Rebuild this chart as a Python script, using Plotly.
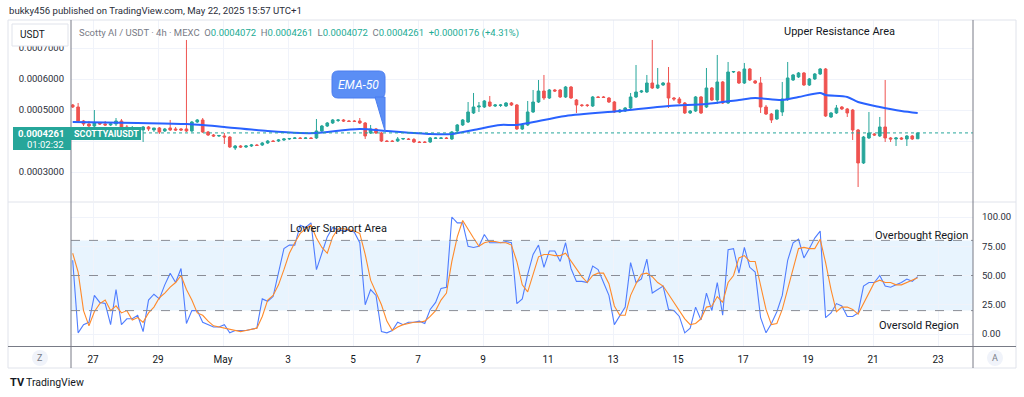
import pandas as pd
import plotly.graph_objects as go

W, H = 1024, 397
def fx(px): return px / W
def fy(py): return 1 - py / H

# ---------------- data ----------------
TIMES = pd.date_range("2025-04-26 09:00", periods=157, freq="4h")

OPEN = [5.162e-4,5.097e-4,4.646e-4,4.549e-4,4.484e-4,4.581e-4,4.549e-4,4.517e-4,4.549e-4,4.646e-4,
4.452e-4,4.388e-4,4.420e-4,4.355e-4,4.452e-4,4.355e-4,4.420e-4,4.323e-4,4.420e-4,4.388e-4,
4.388e-4,4.388e-4,4.323e-4,4.613e-4,4.678e-4,4.291e-4,4.194e-4,4.162e-4,4.162e-4,4.129e-4,
3.775e-4,3.839e-4,3.807e-4,3.839e-4,3.871e-4,3.871e-4,3.936e-4,4.000e-4,4.000e-4,4.033e-4,
4.065e-4,4.081e-4,4.097e-4,4.081e-4,4.097e-4,4.097e-4,4.323e-4,4.484e-4,4.581e-4,4.662e-4,
4.678e-4,4.646e-4,4.646e-4,4.646e-4,4.581e-4,4.258e-4,4.388e-4,4.258e-4,4.000e-4,4.000e-4,
4.000e-4,4.065e-4,4.065e-4,4.049e-4,3.968e-4,3.968e-4,3.968e-4,4.081e-4,4.081e-4,4.097e-4,
4.065e-4,4.323e-4,4.517e-4,4.613e-4,4.904e-4,5.097e-4,5.097e-4,5.258e-4,5.129e-4,5.146e-4,
5.129e-4,5.226e-4,5.162e-4,4.388e-4,4.517e-4,4.936e-4,5.258e-4,5.613e-4,5.387e-4,5.646e-4,
5.646e-4,5.420e-4,5.742e-4,5.323e-4,5.162e-4,5.162e-4,5.129e-4,5.420e-4,5.420e-4,5.387e-4,
5.258e-4,4.936e-4,4.968e-4,5.065e-4,5.420e-4,5.581e-4,5.581e-4,5.871e-4,5.710e-4,5.807e-4,
5.871e-4,5.387e-4,5.355e-4,5.226e-4,4.904e-4,4.968e-4,5.420e-4,5.097e-4,5.710e-4,5.323e-4,
5.904e-4,5.226e-4,6.226e-4,6.226e-4,5.871e-4,6.323e-4,5.936e-4,5.871e-4,5.097e-4,4.871e-4,
4.710e-4,4.936e-4,5.355e-4,5.968e-4,6.065e-4,6.194e-4,5.807e-4,6.001e-4,6.162e-4,6.323e-4,
4.775e-4,4.904e-4,5.097e-4,5.033e-4,5.000e-4,4.355e-4,3.291e-4,4.097e-4,4.226e-4,4.162e-4,
4.452e-4,4.097e-4,4.065e-4,4.097e-4,4.065e-4,4.162e-4,4.072e-4]

HIGH = [5.194e-4,5.226e-4,4.678e-4,4.646e-4,5.000e-4,4.613e-4,4.646e-4,4.581e-4,4.742e-4,4.710e-4,
4.517e-4,4.484e-4,4.452e-4,4.484e-4,4.484e-4,4.420e-4,4.452e-4,4.420e-4,4.678e-4,4.452e-4,
4.420e-4,7.259e-4,4.646e-4,4.710e-4,4.742e-4,4.323e-4,4.226e-4,4.194e-4,4.258e-4,4.162e-4,
3.871e-4,3.871e-4,3.871e-4,3.904e-4,3.904e-4,3.968e-4,4.033e-4,4.033e-4,4.065e-4,4.097e-4,
4.097e-4,4.129e-4,4.129e-4,4.129e-4,4.129e-4,4.710e-4,4.517e-4,4.613e-4,4.710e-4,4.710e-4,
4.710e-4,4.678e-4,4.678e-4,4.742e-4,4.613e-4,4.517e-4,4.420e-4,4.291e-4,4.033e-4,4.033e-4,
4.129e-4,4.097e-4,4.097e-4,4.097e-4,4.000e-4,4.000e-4,4.129e-4,4.129e-4,4.129e-4,4.129e-4,
4.323e-4,4.549e-4,4.710e-4,5.258e-4,5.549e-4,5.258e-4,5.323e-4,5.452e-4,5.194e-4,5.194e-4,
5.258e-4,5.258e-4,5.194e-4,4.549e-4,5.291e-4,5.646e-4,5.968e-4,6.130e-4,5.678e-4,5.678e-4,
5.678e-4,5.775e-4,5.775e-4,5.355e-4,5.194e-4,5.194e-4,5.452e-4,5.452e-4,5.452e-4,5.420e-4,
5.291e-4,5.033e-4,5.097e-4,5.549e-4,6.452e-4,5.646e-4,6.130e-4,7.259e-4,6.355e-4,5.904e-4,
6.387e-4,5.420e-4,5.420e-4,5.258e-4,5.000e-4,5.452e-4,5.452e-4,6.355e-4,5.742e-4,6.775e-4,
5.936e-4,6.549e-4,6.259e-4,6.259e-4,6.517e-4,6.355e-4,5.968e-4,6.065e-4,5.162e-4,4.904e-4,
5.000e-4,5.904e-4,6.549e-4,6.162e-4,6.226e-4,6.226e-4,6.033e-4,6.194e-4,6.355e-4,6.355e-4,
4.936e-4,5.162e-4,5.129e-4,5.065e-4,5.033e-4,4.388e-4,4.162e-4,4.936e-4,4.258e-4,4.775e-4,
5.968e-4,4.129e-4,4.129e-4,4.129e-4,4.194e-4,4.194e-4,4.261e-4]

LOW = [5.065e-4,4.613e-4,4.484e-4,4.420e-4,4.355e-4,4.517e-4,4.484e-4,4.484e-4,4.484e-4,4.420e-4,
4.355e-4,4.323e-4,4.323e-4,3.968e-4,4.323e-4,4.291e-4,4.226e-4,4.291e-4,4.323e-4,4.323e-4,
4.323e-4,4.291e-4,4.291e-4,4.581e-4,4.258e-4,4.162e-4,4.129e-4,4.129e-4,3.904e-4,3.775e-4,
3.710e-4,3.775e-4,3.775e-4,3.807e-4,3.839e-4,3.839e-4,3.904e-4,3.968e-4,3.968e-4,4.000e-4,
4.033e-4,4.065e-4,4.065e-4,4.065e-4,4.065e-4,4.065e-4,4.291e-4,4.452e-4,4.549e-4,4.613e-4,
4.613e-4,4.613e-4,4.613e-4,4.549e-4,4.065e-4,4.226e-4,4.226e-4,3.968e-4,3.968e-4,3.968e-4,
3.968e-4,4.033e-4,4.033e-4,3.936e-4,3.936e-4,3.936e-4,3.936e-4,4.065e-4,4.065e-4,4.065e-4,
4.033e-4,4.291e-4,4.484e-4,4.581e-4,4.871e-4,4.936e-4,5.065e-4,5.097e-4,5.097e-4,5.097e-4,
5.097e-4,5.129e-4,4.355e-4,4.355e-4,4.484e-4,4.904e-4,5.226e-4,5.323e-4,5.355e-4,5.581e-4,
5.387e-4,5.387e-4,5.355e-4,4.904e-4,5.097e-4,5.097e-4,5.097e-4,5.387e-4,5.387e-4,5.226e-4,
4.904e-4,4.904e-4,4.936e-4,5.033e-4,5.387e-4,5.549e-4,5.549e-4,5.678e-4,5.678e-4,5.775e-4,
5.065e-4,5.291e-4,5.194e-4,4.871e-4,4.871e-4,4.936e-4,4.871e-4,5.065e-4,5.291e-4,5.194e-4,
5.194e-4,5.194e-4,6.194e-4,5.839e-4,5.839e-4,5.936e-4,5.839e-4,4.904e-4,4.839e-4,4.581e-4,
4.678e-4,4.807e-4,5.291e-4,5.936e-4,6.033e-4,5.775e-4,5.775e-4,5.968e-4,6.130e-4,4.775e-4,
4.742e-4,4.871e-4,5.000e-4,4.775e-4,4.033e-4,2.516e-4,3.258e-4,4.065e-4,4.162e-4,4.129e-4,
3.968e-4,3.968e-4,3.839e-4,4.033e-4,3.839e-4,4.033e-4,4.072e-4]

CLOSE = [5.097e-4,4.646e-4,4.549e-4,4.484e-4,4.581e-4,4.549e-4,4.517e-4,4.549e-4,4.646e-4,4.452e-4,
4.388e-4,4.420e-4,4.355e-4,4.452e-4,4.388e-4,4.420e-4,4.291e-4,4.388e-4,4.355e-4,4.355e-4,
4.355e-4,4.323e-4,4.613e-4,4.678e-4,4.291e-4,4.194e-4,4.162e-4,4.178e-4,4.129e-4,3.807e-4,
3.839e-4,3.807e-4,3.839e-4,3.871e-4,3.855e-4,3.936e-4,4.000e-4,3.984e-4,4.033e-4,4.065e-4,
4.081e-4,4.097e-4,4.081e-4,4.097e-4,4.081e-4,4.323e-4,4.484e-4,4.581e-4,4.678e-4,4.678e-4,
4.646e-4,4.630e-4,4.630e-4,4.581e-4,4.162e-4,4.388e-4,4.258e-4,4.000e-4,3.984e-4,3.984e-4,
4.065e-4,4.081e-4,4.049e-4,3.968e-4,3.952e-4,3.952e-4,4.097e-4,4.097e-4,4.097e-4,4.081e-4,
4.291e-4,4.517e-4,4.678e-4,4.936e-4,5.097e-4,5.129e-4,5.291e-4,5.129e-4,5.162e-4,5.162e-4,
5.226e-4,5.162e-4,4.388e-4,4.517e-4,4.936e-4,5.258e-4,5.613e-4,5.387e-4,5.646e-4,5.613e-4,
5.420e-4,5.742e-4,5.387e-4,5.162e-4,5.146e-4,5.146e-4,5.420e-4,5.404e-4,5.404e-4,5.258e-4,
4.936e-4,5.000e-4,5.065e-4,5.420e-4,5.581e-4,5.613e-4,5.871e-4,5.710e-4,5.807e-4,5.871e-4,
5.387e-4,5.355e-4,5.226e-4,4.904e-4,4.968e-4,5.420e-4,4.904e-4,5.710e-4,5.323e-4,5.904e-4,
5.226e-4,6.226e-4,6.242e-4,5.871e-4,6.323e-4,5.968e-4,5.871e-4,5.097e-4,4.871e-4,4.678e-4,
5.000e-4,5.355e-4,6.033e-4,6.130e-4,6.194e-4,5.807e-4,6.001e-4,6.162e-4,6.323e-4,4.807e-4,
4.904e-4,5.065e-4,5.033e-4,4.904e-4,4.355e-4,3.291e-4,4.129e-4,4.258e-4,4.194e-4,4.452e-4,
4.097e-4,4.065e-4,4.097e-4,4.065e-4,4.162e-4,4.065e-4,4.261e-4]

# EMA-50 (read at a subset of candles)
EMA_IDX = [0,12,21,24,28,36,42,45,53,58,66,70,74,79,82,91,101,110,117,123,126,131,134,138,139,143,145,149,153,156]
EMA_VAL = [4.613e-4,4.581e-4,4.549e-4,4.517e-4,4.452e-4,4.323e-4,4.258e-4,4.258e-4,4.388e-4,4.323e-4,
           4.226e-4,4.226e-4,4.355e-4,4.517e-4,4.517e-4,4.807e-4,4.968e-4,5.129e-4,5.194e-4,5.323e-4,
           5.387e-4,5.323e-4,5.420e-4,5.549e-4,5.484e-4,5.420e-4,5.258e-4,5.097e-4,4.968e-4,4.904e-4]

# Stoch RSI %K (blue) and %D (orange)
K = [63,1,8,10,33,27,26,8,38,8,
     13,13,16,2,29,34,30,42,52,44,
     56,9,20,20,10,8,6,6,8,1,
     3,3,3,4,5,30,28,32,52,73,
     76,76,93,91,95,55,69,83,91,89,
     88,89,87,78,25,38,33,2,1,3,
     10,8,10,10,11,9,21,27,39,40,
     100,95,95,75,74,75,85,78,78,78,
     79,78,26,30,51,68,76,57,71,71,
     62,78,56,45,45,44,58,55,44,33,
     8,16,23,61,44,47,64,35,38,41,
     21,20,15,1,5,23,12,35,20,44,
     16,72,73,52,74,57,53,14,1,9,
     19,33,63,78,81,65,73,82,88,14,
     18,26,24,15,15,18,41,44,44,50,
     41,40,42,44,47,45,49]
D = [69,53,20,7,19,26,29,20,24,18,
     20,12,14,10,18,23,31,35,40,44,
     50,38,29,18,16,11,7,6,5,4,
     3,2,3,4,5,15,29,33,42,55,
     69,78,86,90,93,82,74,69,83,90,
     90,89,88,86,68,46,36,25,11,3,
     6,8,9,10,10,11,15,20,29,35,
     62,83,97,89,82,75,78,79,79,78,
     78,76,62,42,36,51,66,68,68,67,
     67,69,62,56,49,44,50,52,52,43,
     24,16,16,33,43,51,52,49,44,41,
     34,27,19,13,8,9,13,23,24,32,
     27,44,50,65,67,62,62,41,21,8,
     9,21,38,57,73,74,73,73,81,61,
     38,19,23,23,21,17,26,35,44,46,
     44,44,42,42,44,46,48]

TICK_DATES = ["2025-04-27","2025-04-29","2025-05-01","2025-05-03","2025-05-05","2025-05-07",
              "2025-05-09","2025-05-11","2025-05-13","2025-05-15","2025-05-17","2025-05-19",
              "2025-05-21","2025-05-23"]
TICK_LABELS = ["27","29","May","3","5","7","9","11","13","15","17","19","21","23"]
PRICE_TICKS = [0.0003,0.0004,0.0005,0.0006,0.0007]
# 0.0004000 sits under the last-price label in the reference, so it is not shown
PRICE_LABELS = ["0.0003000","","0.0005000","0.0006000","0.0007000"]
RSI_TICKS = [0,25,50,75,100]
RSI_LABELS = ["0.00","25.00","50.00","75.00","100.00"]
RSI_BANDS = [20,50,80]
LAST_PRICE = 0.0004261

GREEN = "#26a69a"
RED = "#ef5350"
TEXT = "#131722"
GRID = "#f0f3fa"
AXIS = "#787b86"
FONT = "Roboto"

fig = go.Figure()
fig.add_trace(go.Candlestick(
    x=TIMES, open=OPEN, high=HIGH, low=LOW, close=CLOSE,
    increasing=dict(line=dict(color=GREEN, width=1), fillcolor=GREEN),
    decreasing=dict(line=dict(color=RED, width=1), fillcolor=RED),
    whiskerwidth=0, xaxis="x", yaxis="y", hoverinfo="skip", showlegend=False))
fig.add_trace(go.Scatter(
    x=TIMES[EMA_IDX], y=EMA_VAL, mode="lines", xaxis="x", yaxis="y",
    line=dict(color="#2962ff", width=2, shape="spline", smoothing=0.8),
    hoverinfo="skip", showlegend=False))
fig.add_trace(go.Scatter(
    x=TIMES, y=K, mode="lines", xaxis="x", yaxis="y2",
    line=dict(color="#4f7dff", width=1.1), hoverinfo="skip", showlegend=False))
fig.add_trace(go.Scatter(
    x=TIMES, y=D, mode="lines", xaxis="x", yaxis="y2",
    line=dict(color="#ff8a2a", width=1.1), hoverinfo="skip", showlegend=False))

shapes = []
shapes.append(dict(type="rect", xref="paper", yref="y2", x0=fx(71), x1=fx(973), y0=20, y1=80,
                   fillcolor="rgba(33,150,243,0.1)", line=dict(width=0), layer="below"))
for lv in RSI_BANDS:
    shapes.append(dict(type="line", xref="paper", yref="y2", x0=fx(71), x1=fx(973), y0=lv, y1=lv,
                       line=dict(color="#8a8d96", width=1, dash="dash")))
shapes.append(dict(type="line", xref="paper", yref="y", x0=fx(71), x1=fx(973), y0=LAST_PRICE, y1=LAST_PRICE,
                   line=dict(color=GREEN, width=1, dash="dot")))
# frame
shapes.append(dict(type="rect", xref="paper", yref="paper", x0=fx(8), x1=fx(1016), y0=fy(368), y1=fy(20),
                   line=dict(color="#e0e3eb", width=1)))
shapes.append(dict(type="line", xref="paper", yref="paper", x0=fx(8), x1=fx(1016), y0=fy(202), y1=fy(202),
                   line=dict(color="#e0e3eb", width=1)))
shapes.append(dict(type="line", xref="paper", yref="paper", x0=fx(8), x1=fx(1016), y0=fy(346.5), y1=fy(346.5),
                   line=dict(color=AXIS, width=1)))
for xv in (71, 973):
    shapes.append(dict(type="line", xref="paper", yref="paper", x0=fx(xv), x1=fx(xv), y0=fy(368), y1=fy(20),
                       line=dict(color=AXIS, width=1)))
# USDT box and last-price label boxes
shapes.append(dict(type="rect", xref="paper", yref="paper", x0=fx(12), x1=fx(68), y0=fy(46), y1=fy(24),
                   fillcolor="white", line=dict(color="#e0e3eb", width=1), layer="above"))
shapes.append(dict(type="rect", xref="paper", yref="paper", x0=fx(13), x1=fx(71), y0=fy(150), y1=fy(127),
                   fillcolor=GREEN, line=dict(width=0), layer="above"))
shapes.append(dict(type="rect", xref="paper", yref="paper", x0=fx(71), x1=fx(141), y0=fy(140), y1=fy(127),
                   fillcolor=GREEN, line=dict(width=0), layer="above"))
# EMA-50 callout bubble
def rpath(x0, y0, x1, y1, r):
    return (f"M {fx(x0 + r)},{fy(y0)} L {fx(x1 - r)},{fy(y0)} Q {fx(x1)},{fy(y0)} {fx(x1)},{fy(y0 + r)} "
            f"L {fx(x1)},{fy(y1 - r)} Q {fx(x1)},{fy(y1)} {fx(x1 - r)},{fy(y1)} "
            f"L {fx(x0 + r)},{fy(y1)} Q {fx(x0)},{fy(y1)} {fx(x0)},{fy(y1 - r)} "
            f"L {fx(x0)},{fy(y0 + r)} Q {fx(x0)},{fy(y0)} {fx(x0 + r)},{fy(y0)} Z")
BUBBLE = "#5b8ef5"
shapes.append(dict(type="path", xref="paper", yref="paper", path=rpath(332, 71, 385, 98, 6),
                   fillcolor=BUBBLE, line=dict(color="#4a7df0", width=1), layer="above"))
shapes.append(dict(type="path", xref="paper", yref="paper",
                   path=f"M {fx(375)},{fy(97)} L {fx(385)},{fy(97)} L {fx(385)},{fy(131)} Z",
                   fillcolor=BUBBLE, line=dict(color="#4a7df0", width=1), layer="above"))
for cx, cy in ((40, 358), (995, 358)):
    shapes.append(dict(type="circle", xref="paper", yref="paper", x0=fx(cx - 8), x1=fx(cx + 8),
                       y0=fy(cy + 8), y1=fy(cy - 8), fillcolor="#f0f3fa", line=dict(width=0)))

ann = []
def T(x, y, text, size=11, color=TEXT, xanchor="center", **kw):
    d = dict(xref="paper", yref="paper", x=fx(x), y=fy(y), text=text, showarrow=False,
             xanchor=xanchor, yanchor="middle", font=dict(family=FONT, size=size, color=color))
    d.update(kw)
    ann.append(d)

T(7, 11, "bukky456 published on TradingView.com, May 22, 2025 15:57 UTC+1", size=9.6, color="#2a2e39", xanchor="left")
g = "#787b86"
v = "#22ab94"
legend = (f"<span style='color:{g}'>Scotty AI / USDT · 4h · MEXC&nbsp;&nbsp;O</span><span style='color:{v}'>0.0004072</span>"
          f"<span style='color:{g}'>&nbsp;&nbsp;H</span><span style='color:{v}'>0.0004261</span>"
          f"<span style='color:{g}'>&nbsp;&nbsp;L</span><span style='color:{v}'>0.0004072</span>"
          f"<span style='color:{g}'>&nbsp;&nbsp;C</span><span style='color:{v}'>0.0004261&nbsp;&nbsp;+0.0000176 (+4.31%)</span>")
T(77, 33, legend, size=9.5, xanchor="left")
T(18, 35, "USDT", size=10, xanchor="left")
T(66, 133.5, "<b>0.0004261</b>", size=9.5, color="white", xanchor="right")
T(66, 144.5, "01:02:32", size=9.5, color="white", xanchor="right")
T(106, 133.5, "<b>SCOTTYAIUSDT</b>", size=9, color="white")
T(358.5, 84.5, "<i>EMA-50</i>", size=12, color="white")
T(839, 32, "Upper Resistance Area", size=11)
T(338, 229, "Lower Support Area", size=11)
T(921, 235, "Overbought Region", size=11)
T(919, 325, "Oversold Region", size=11)
T(40, 358, "Z", size=9, color="#787b86")
T(995, 358, "A", size=9, color="#787b86")
T(8, 382, "<b>TV</b>", size=11, color="#131722", xanchor="left")
T(24, 382, "TradingView", size=10.5, color="#131722", xanchor="left")

fig.update_layout(
    width=W, height=H, margin=dict(l=0, r=0, t=0, b=0),
    paper_bgcolor="white", plot_bgcolor="white", showlegend=False, hovermode=False,
    font=dict(family=FONT, size=11, color=TEXT),
    xaxis=dict(domain=[fx(71), fx(973)], anchor="y2", type="date",
               range=["2025-04-26 07:45", "2025-05-24 01:51"],
               tickvals=TICK_DATES, ticktext=TICK_LABELS, showgrid=True, gridcolor=GRID, gridwidth=1,
               showline=False, zeroline=False, ticks="", ticklabelstandoff=6,
               tickfont=dict(family=FONT, size=10, color=TEXT), rangeslider=dict(visible=False)),
    yaxis=dict(domain=[fy(201), fy(20)], anchor="x", side="left",
               range=[2.0645e-4, 7.9032e-4], tickvals=PRICE_TICKS, ticktext=PRICE_LABELS,
               showgrid=True, gridcolor=GRID, zeroline=False, showline=False, ticks="",
               ticklabelstandoff=6, tickfont=dict(family=FONT, size=9.5, color="#2a2e39")),
    yaxis2=dict(domain=[fy(346), fy(203)], anchor="x", side="right",
                range=[-10.26, 111.97], tickvals=RSI_TICKS, ticktext=RSI_LABELS,
                showgrid=True, gridcolor=GRID, zeroline=False, showline=False, ticks="",
                ticklabelstandoff=8, tickfont=dict(family=FONT, size=9.5, color="#2a2e39")),
    shapes=shapes, annotations=ann,
)

fig.write_html("out.html", config={"displayModeBar": False, "staticPlot": True},
               post_script="document.body.style.margin='0px';document.body.style.overflow='hidden';")
